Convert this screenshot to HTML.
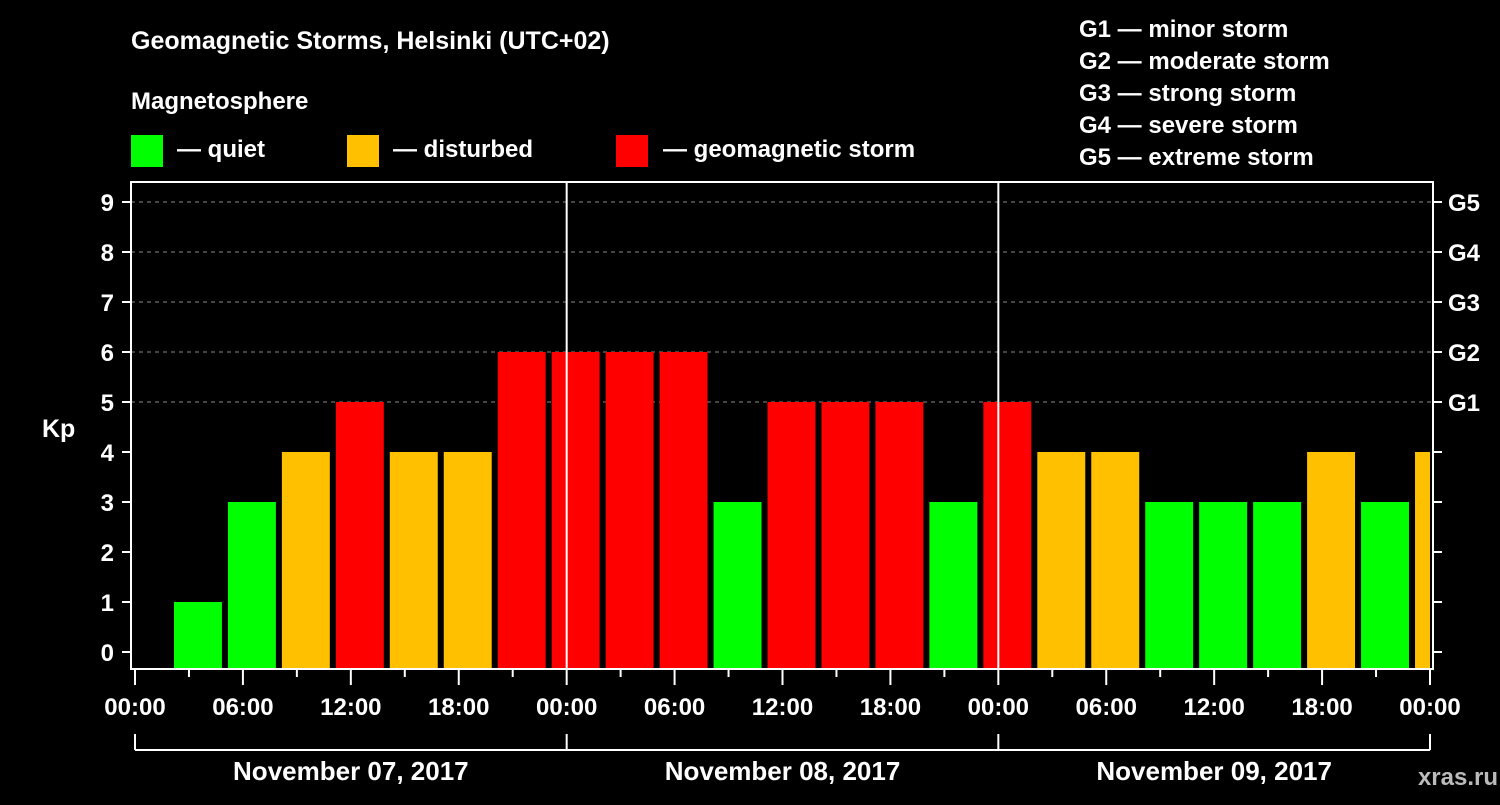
<!DOCTYPE html>
<html><head><meta charset="utf-8"><style>
body{margin:0;background:#000;width:1500px;height:800px;overflow:hidden}
svg text{font-family:"Liberation Sans",sans-serif;font-weight:bold;fill:#fff}
</style></head><body>
<svg id="c" width="1500" height="800">
<text x="131" y="49" font-size="25">Geomagnetic Storms, Helsinki (UTC+02)</text>
<text x="131" y="109" font-size="24">Magnetosphere</text>
<g><rect x="131" y="135" width="32" height="32" fill="#00ff00"/><text x="177" y="157" font-size="24">— quiet</text></g>
<g><rect x="347" y="135" width="32" height="32" fill="#ffc000"/><text x="393" y="157" font-size="24">— disturbed</text></g>
<g><rect x="616" y="135" width="32" height="32" fill="#ff0000"/><text x="663" y="157" font-size="24">— geomagnetic storm</text></g>
<g font-size="24">
<text x="1079" y="37">G1 — minor storm</text><text x="1079" y="69">G2 — moderate storm</text><text x="1079" y="101">G3 — strong storm</text><text x="1079" y="133">G4 — severe storm</text><text x="1079" y="165">G5 — extreme storm</text></g>
<text x="42" y="437" font-size="25">Kp</text>
<text x="1498" y="785" font-size="24" text-anchor="end" fill="#bbb" style="fill:#bbb">xras.ru</text>
<g id="plot"></g>
</svg>
<script>
const kp=[1,3,4,5,4,4,6,6, 6,6,3,5,5,5,3,5, 4,4,3,3,3,4,3,4];
const startHour=2; // local time of first bar
const xTickLabels=["00:00","06:00","12:00","18:00","00:00","06:00","12:00","18:00","00:00","06:00","12:00","18:00","00:00"];
const dayLabels=["November 07, 2017","November 08, 2017","November 09, 2017"];
const yTicks=[0,1,2,3,4,5,6,7,8,9];
const gLabels=["G1","G2","G3","G4","G5"];
const NS="http://www.w3.org/2000/svg";
const L=131,R=1433,T=182,B=669,X0=135,X1=1430,H=72;
const x=h=>X0+(X1-X0)*h/H;
const y=v=>652-50*v;
const g=document.getElementById('plot');
function el(t,a,txt){const e=document.createElementNS(NS,t);for(const k in a)e.setAttribute(k,a[k]);if(txt!=null)e.textContent=txt;g.appendChild(e);return e;}
const col=v=>v>=5?"#ff0000":v>=4?"#ffc000":"#00ff00";
yTicks.forEach(v=>{if(v>=5){const l=el('line',{x1:L,x2:R,y1:y(v),y2:y(v),stroke:'#888','stroke-dasharray':'4,4'});

}});
kp.forEach((v,i)=>{const h0=startHour+3*i;let a=x(h0)+3,b=x(h0+3)-3;b=Math.min(b,R-3);
const r=el('rect',{x:a,y:y(v),width:Math.max(0,b-a),height:668-y(v),fill:col(v)});

});
const f=el('rect',{x:L,y:T,width:R-L,height:B-T,fill:'none',stroke:'#fff','stroke-width':2});


[1,2].forEach(d=>{const l=el('line',{x1:x(24*d),x2:x(24*d),y1:T,y2:B,stroke:'#fff','stroke-width':2});

});
yTicks.forEach(v=>{el('line',{x1:122,x2:L,y1:y(v),y2:y(v),stroke:'#fff','stroke-width':2});el('line',{x1:R,x2:1442,y1:y(v),y2:y(v),stroke:'#fff','stroke-width':2});
const t=el('text',{x:114,y:y(v)+9,'font-size':24,'text-anchor':'end'},v);

});
gLabels.forEach((s,i)=>{const t=el('text',{x:1448,y:y(5+i)+9,'font-size':24},s);

});
for(let h=0;h<=H;h+=3){const big=h%6===0;el('line',{x1:x(h),x2:x(h),y1:B,y2:B+(big?16:8),stroke:'#fff','stroke-width':2});}
xTickLabels.forEach((s,i)=>{const t=el('text',{x:x(6*i),y:715,'font-size':24,'text-anchor':'middle'},s);

});
el('line',{x1:X0,x2:X1,y1:750,y2:750,stroke:'#fff','stroke-width':2});
[0,1,2,3].forEach(d=>el('line',{x1:x(24*d),x2:x(24*d),y1:734,y2:750,stroke:'#fff','stroke-width':2}));
dayLabels.forEach((s,i)=>{const t=el('text',{x:x(24*i+12),y:780,'font-size':26,'text-anchor':'middle'},s);

});
</script>
</body></html>
